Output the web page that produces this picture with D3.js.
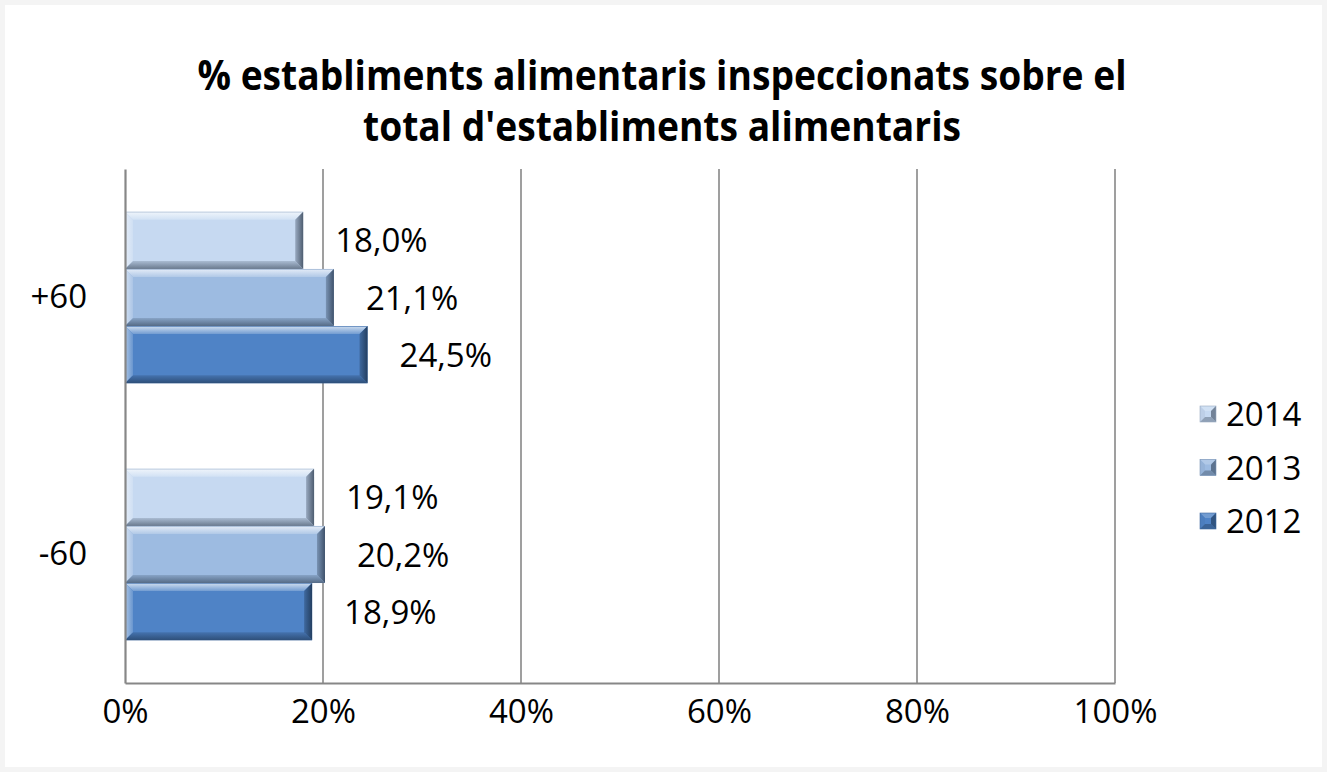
<!DOCTYPE html>
<html>
<head>
<meta charset="utf-8">
<script src="https://cdn.jsdelivr.net/npm/d3@7"></script>
<style>
  html, body { margin: 0; padding: 0; background: #f4f4f4; }
  svg { display: block; }
  text { font-family: "Open Sans", "Liberation Sans", sans-serif; fill: #000; }
</style>
</head>
<body>
<svg id="chart" width="1327" height="772"></svg>
<script>
// ---- data ----
const titleLines = ["% establiments alimentaris inspeccionats sobre el", "total d'establiments alimentaris"];
const categories = ["+60", "-60"];
const seriesNames = ["2014", "2013", "2012"];
const values2014 = [18.0, 19.1];
const values2013 = [21.1, 20.2];
const values2012 = [24.5, 18.9];
const xTicks = [0, 20, 40, 60, 80, 100];

const seriesValues = { "2014": values2014, "2013": values2013, "2012": values2012 };
const seriesColors = { "2014": "#c6d9f1", "2013": "#9dbbe1", "2012": "#4f83c6" };

const svg = d3.select("#chart");
const W = 1327, H = 772;

svg.append("rect").attr("x", 5).attr("y", 5).attr("width", W - 10).attr("height", H - 10)
  .attr("fill", "#ffffff");

const plot = { left: 125, right: 1115, top: 169, bottom: 683 };

const x = d3.scaleLinear().domain([0, 100]).range([plot.left, plot.right]);
const y = d3.scaleBand().domain(categories).range([plot.top, plot.bottom]).padding(0);
const ys = d3.scaleBand().domain(seriesNames).range([0, y.bandwidth()])
  .paddingInner(0).paddingOuter(0.75);

const defs = svg.append("defs");
function mkGrad(id, x1, y1, x2, y2, stops) {
  const g = defs.append("linearGradient").attr("id", id)
    .attr("x1", x1).attr("y1", y1).attr("x2", x2).attr("y2", y2);
  stops.forEach(s => g.append("stop").attr("offset", s[0]).attr("stop-color", s[1]));
}
const hiOf = s => d3.interpolateRgb(seriesColors[s], "#ffffff");
const loOf = s => d3.interpolateRgb(seriesColors[s], "#0d1a2b");
seriesNames.forEach(s => {
  const hi = hiOf(s), lo = loOf(s);
  mkGrad("top-" + s, 0, 0, 0, 1, [[0, lo(0.15)], [0.15, hi(0.65)], [1, hi(0.2)]]);
  mkGrad("left-" + s, 0, 0, 1, 0, [[0, lo(0.1)], [0.2, hi(0.45)], [1, hi(0.15)]]);
  mkGrad("bot-" + s, 0, 0, 0, 1, [[0, lo(0.15)], [1, lo(0.5)]]);
  mkGrad("right-" + s, 0, 0, 1, 0, [[0, lo(0.25)], [1, lo(0.65)]]);
});

function bevel(g, x0, y0, x1, y1, b, s, fills) {
  const c = seriesColors[s];
  const f = fills || {
    top: `url(#top-${s})`, left: `url(#left-${s})`,
    bot: `url(#bot-${s})`, right: `url(#right-${s})`
  };
  g.append("rect").attr("x", x0).attr("y", y0).attr("width", x1 - x0).attr("height", y1 - y0).attr("fill", c);
  const poly = (pts, fill) => g.append("polygon")
    .attr("points", pts.map(p => p.join(",")).join(" ")).attr("fill", fill);
  poly([[x0, y0], [x1, y0], [x1 - b, y0 + b], [x0 + b, y0 + b]], f.top);
  poly([[x0, y0], [x0 + b, y0 + b], [x0 + b, y1 - b], [x0, y1]], f.left);
  poly([[x0, y1], [x0 + b, y1 - b], [x1 - b, y1 - b], [x1, y1]], f.bot);
  poly([[x1, y0], [x1, y1], [x1 - b, y1 - b], [x1 - b, y0 + b]], f.right);
}

// title
const titleG = svg.append("g");
const titleSize = 41;
titleLines.forEach((t, i) => {
  titleG.append("text").attr("x", 662).attr("y", 90 + i * 51)
    .attr("text-anchor", "middle").attr("font-weight", "bold")
    .attr("font-size", titleSize).text(t);
});
(function () {
  const nodes = titleG.selectAll("text").nodes();
  const k = 929 / nodes[0].getComputedTextLength();
  nodes.forEach(n => {
    const w = n.getComputedTextLength();
    d3.select(n).attr("textLength", w * k).attr("lengthAdjust", "spacingAndGlyphs");
  });
})();

// gridlines
svg.append("g").selectAll("line").data(xTicks.slice(1)).join("line")
  .attr("x1", d => x(d)).attr("x2", d => x(d))
  .attr("y1", plot.top).attr("y2", plot.bottom)
  .attr("stroke", "#878787").attr("stroke-width", 1.6);

// bars
const barsG = svg.append("g");
categories.forEach((cat, ci) => {
  seriesNames.forEach(s => {
    const v = seriesValues[s][ci];
    const y0 = y(cat) + ys(s);
    const y1 = y0 + ys.bandwidth();
    bevel(barsG, x(0), y0, x(v), y1, 8, s);
    barsG.append("text")
      .attr("x", x(v) + 32).attr("y", (y0 + y1) / 2 + 12)
      .attr("font-size", 33)
      .text(v.toFixed(1).replace(".", ",") + "%");
  });
});

// axes
const xAxis = d3.axisBottom(x).tickValues(xTicks).tickSize(0).tickPadding(17)
  .tickFormat(d => d + "%");
const gx = svg.append("g").attr("transform", `translate(0,${plot.bottom})`).call(xAxis);
gx.select(".domain").attr("stroke", "#878787").attr("stroke-width", 2.2);
gx.selectAll("text").attr("font-size", 33).attr("font-family", '"Open Sans", sans-serif').attr("fill", "#000");

const yAxis = d3.axisLeft(y).tickSize(0).tickPadding(38);
const gy = svg.append("g").attr("transform", `translate(${plot.left},0)`).call(yAxis);
gy.select(".domain").attr("stroke", "#878787").attr("stroke-width", 2.2);
gy.selectAll("text").attr("font-size", 33).attr("font-family", '"Open Sans", sans-serif').attr("fill", "#000");

// legend
const legendY = [414, 467.5, 521];
const legG = svg.append("g");
seriesNames.forEach((s, i) => {
  const cy = legendY[i];
  const hi = hiOf(s), lo = loOf(s);
  bevel(legG, 1200, cy - 8, 1216, cy + 8, 5, s,
    { top: hi(0.2), left: lo(0.05), bot: lo(0.3), right: lo(0.45) });
  legG.append("rect").attr("x", 1200).attr("y", cy - 8).attr("width", 16).attr("height", 16)
    .attr("fill", "none").attr("stroke", lo(0.25)).attr("stroke-width", 0.6);
  legG.append("text").attr("x", 1226).attr("y", cy + 12).attr("font-size", 33).text(s);
});
</script>
</body>
</html>
